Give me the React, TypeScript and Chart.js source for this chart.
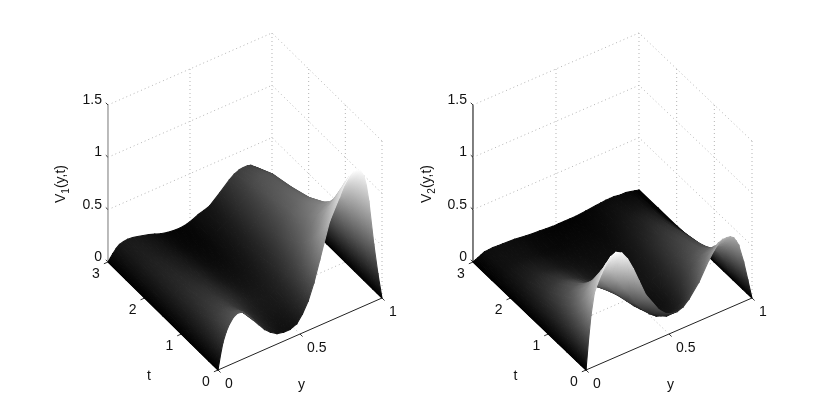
import React, { useEffect, useRef } from "react";
import { Chart, registerables } from "chart.js";

Chart.register(...registerables);

const W = 830;
const H = 417;

// Grid of the two surfaces
const yGrid = [0, 0.015, 0.03, 0.05, 0.07, 0.095, 0.12, 0.15, 0.18, 0.215, 0.25, 0.285, 0.32, 0.36, 0.4, 0.44, 0.48, 0.515, 0.55, 0.585, 0.62, 0.68, 0.74, 0.77, 0.8, 0.825, 0.85, 0.87, 0.89, 0.905, 0.92, 0.95, 0.975, 1];
const tGrid = [0, 0.125, 0.25, 0.5, 0.75, 1, 1.5, 2, 2.5, 3];

// V1(y,t), one row per value of tGrid
const v1Rows = [
  [0, 0.13, 0.24, 0.33, 0.39, 0.44, 0.46, 0.45, 0.40, 0.33, 0.26, 0.19, 0.14, 0.10, 0.085, 0.085, 0.11, 0.18, 0.28, 0.43, 0.62, 0.95, 1.14, 1.24, 1.30, 1.33, 1.33, 1.30, 1.24, 1.14, 0.98, 0.55, 0.25, 0],
  [0, 0.10, 0.21, 0.29, 0.36, 0.40, 0.425, 0.42, 0.385, 0.32, 0.26, 0.20, 0.15, 0.115, 0.09, 0.095, 0.115, 0.17, 0.26, 0.39, 0.56, 0.85, 1.04, 1.13, 1.19, 1.22, 1.22, 1.20, 1.14, 1.05, 0.91, 0.52, 0.245, 0],
  [0, 0.09, 0.18, 0.26, 0.33, 0.37, 0.39, 0.385, 0.36, 0.31, 0.26, 0.20, 0.16, 0.12, 0.10, 0.10, 0.12, 0.17, 0.24, 0.36, 0.50, 0.76, 0.94, 1.02, 1.08, 1.11, 1.12, 1.10, 1.04, 0.96, 0.84, 0.48, 0.24, 0],
  [0, 0.07, 0.14, 0.21, 0.27, 0.31, 0.33, 0.335, 0.32, 0.285, 0.25, 0.21, 0.17, 0.14, 0.12, 0.12, 0.13, 0.16, 0.21, 0.30, 0.40, 0.60, 0.76, 0.83, 0.87, 0.90, 0.90, 0.89, 0.85, 0.78, 0.70, 0.43, 0.22, 0],
  [0, 0.06, 0.12, 0.18, 0.23, 0.27, 0.29, 0.295, 0.29, 0.265, 0.24, 0.21, 0.18, 0.15, 0.13, 0.125, 0.13, 0.155, 0.19, 0.26, 0.33, 0.49, 0.62, 0.69, 0.73, 0.755, 0.76, 0.75, 0.72, 0.66, 0.60, 0.38, 0.20, 0],
  [0, 0.05, 0.10, 0.155, 0.20, 0.24, 0.26, 0.265, 0.26, 0.24, 0.22, 0.195, 0.17, 0.14, 0.12, 0.115, 0.12, 0.14, 0.17, 0.22, 0.28, 0.42, 0.54, 0.60, 0.64, 0.665, 0.67, 0.66, 0.63, 0.58, 0.53, 0.34, 0.18, 0],
  [0, 0.045, 0.09, 0.13, 0.17, 0.195, 0.21, 0.215, 0.21, 0.195, 0.18, 0.155, 0.13, 0.105, 0.09, 0.085, 0.09, 0.105, 0.13, 0.17, 0.21, 0.32, 0.43, 0.49, 0.52, 0.545, 0.55, 0.54, 0.52, 0.48, 0.44, 0.29, 0.15, 0],
  [0, 0.04, 0.08, 0.115, 0.15, 0.17, 0.18, 0.18, 0.17, 0.155, 0.14, 0.12, 0.10, 0.075, 0.06, 0.055, 0.06, 0.08, 0.10, 0.135, 0.17, 0.27, 0.37, 0.43, 0.46, 0.475, 0.48, 0.47, 0.45, 0.42, 0.38, 0.25, 0.13, 0],
  [0, 0.035, 0.07, 0.10, 0.13, 0.145, 0.155, 0.15, 0.14, 0.125, 0.11, 0.09, 0.07, 0.05, 0.04, 0.035, 0.04, 0.06, 0.08, 0.11, 0.14, 0.23, 0.32, 0.38, 0.41, 0.425, 0.43, 0.42, 0.40, 0.37, 0.33, 0.22, 0.11, 0],
  [0, 0.03, 0.06, 0.095, 0.12, 0.13, 0.135, 0.13, 0.12, 0.105, 0.09, 0.07, 0.05, 0.035, 0.025, 0.022, 0.03, 0.05, 0.075, 0.09, 0.11, 0.19, 0.275, 0.31, 0.33, 0.335, 0.335, 0.325, 0.30, 0.28, 0.25, 0.17, 0.09, 0],
];

// V2(y,t), one row per value of tGrid
const v2Rows = [
  [0, 0.27, 0.50, 0.70, 0.78, 0.86, 0.93, 0.98, 1.0, 0.97, 0.89, 0.77, 0.63, 0.47, 0.37, 0.27, 0.21, 0.185, 0.18, 0.20, 0.25, 0.37, 0.54, 0.61, 0.665, 0.68, 0.68, 0.675, 0.65, 0.61, 0.56, 0.38, 0.19, 0],
  [0, 0.21, 0.40, 0.58, 0.67, 0.75, 0.81, 0.86, 0.875, 0.84, 0.74, 0.63, 0.52, 0.38, 0.29, 0.20, 0.145, 0.12, 0.12, 0.135, 0.18, 0.30, 0.45, 0.52, 0.57, 0.59, 0.595, 0.59, 0.565, 0.53, 0.48, 0.33, 0.17, 0],
  [0, 0.17, 0.32, 0.47, 0.58, 0.66, 0.72, 0.76, 0.76, 0.70, 0.60, 0.50, 0.42, 0.30, 0.22, 0.15, 0.10, 0.085, 0.08, 0.095, 0.13, 0.25, 0.38, 0.44, 0.49, 0.51, 0.52, 0.51, 0.49, 0.46, 0.42, 0.29, 0.15, 0],
  [0, 0.11, 0.22, 0.33, 0.42, 0.49, 0.54, 0.575, 0.58, 0.54, 0.46, 0.39, 0.32, 0.24, 0.17, 0.11, 0.07, 0.06, 0.06, 0.07, 0.10, 0.18, 0.28, 0.33, 0.37, 0.39, 0.40, 0.39, 0.37, 0.34, 0.31, 0.22, 0.11, 0],
  [0, 0.08, 0.16, 0.24, 0.31, 0.37, 0.42, 0.445, 0.45, 0.42, 0.37, 0.32, 0.27, 0.21, 0.15, 0.10, 0.08, 0.07, 0.06, 0.07, 0.09, 0.15, 0.23, 0.27, 0.30, 0.32, 0.33, 0.32, 0.31, 0.285, 0.26, 0.18, 0.09, 0],
  [0, 0.06, 0.12, 0.18, 0.24, 0.29, 0.32, 0.345, 0.35, 0.33, 0.30, 0.26, 0.22, 0.17, 0.13, 0.10, 0.09, 0.08, 0.07, 0.08, 0.09, 0.13, 0.20, 0.235, 0.26, 0.28, 0.29, 0.28, 0.27, 0.245, 0.22, 0.16, 0.08, 0],
  [0, 0.04, 0.08, 0.115, 0.15, 0.18, 0.20, 0.215, 0.22, 0.21, 0.19, 0.165, 0.14, 0.11, 0.09, 0.08, 0.07, 0.065, 0.06, 0.065, 0.07, 0.10, 0.15, 0.175, 0.20, 0.215, 0.22, 0.215, 0.21, 0.19, 0.17, 0.12, 0.06, 0],
  [0, 0.025, 0.05, 0.07, 0.09, 0.11, 0.12, 0.13, 0.13, 0.12, 0.11, 0.095, 0.08, 0.07, 0.06, 0.055, 0.05, 0.05, 0.05, 0.05, 0.05, 0.07, 0.10, 0.115, 0.13, 0.145, 0.15, 0.145, 0.14, 0.13, 0.12, 0.08, 0.04, 0],
  [0, 0.015, 0.03, 0.045, 0.06, 0.065, 0.07, 0.07, 0.07, 0.065, 0.06, 0.05, 0.04, 0.035, 0.03, 0.03, 0.03, 0.03, 0.03, 0.03, 0.03, 0.04, 0.06, 0.07, 0.08, 0.08, 0.08, 0.08, 0.08, 0.075, 0.07, 0.05, 0.02, 0],
  [0, 0.01, 0.02, 0.035, 0.05, 0.052, 0.055, 0.052, 0.05, 0.048, 0.045, 0.038, 0.03, 0.025, 0.02, 0.015, 0.01, 0.01, 0.01, 0.01, 0.01, 0.02, 0.03, 0.035, 0.04, 0.04, 0.04, 0.035, 0.03, 0.03, 0.03, 0.02, 0.01, 0],
];

// Tick values and labels
const zTicks = [0, 0.5, 1, 1.5];
const zLabels = ["0", "0.5", "1", "1.5"];
const tTicks = [0, 1, 2, 3];
const tLabels = ["0", "1", "2", "3"];
const yTicks = [0, 0.5, 1];
const yLabels = ["0", "0.5", "1"];

type Panel = {
  ox: number; oy: number; yx: number; yy: number; tx: number; ty: number; zz: number;
  rows: number[][]; sub: string; labelX: number; zAxisColor: string;
};

const panels: Panel[] = [
  { ox: 218, oy: 370, yx: 164, yy: -72, tx: -36.67, ty: -36, zz: -104.7, rows: v1Rows, sub: "1", labelX: 61, zAxisColor: "#777777" },
  { ox: 586, oy: 370, yx: 166, yy: -72, tx: -37.67, ty: -36, zz: -104.7, rows: v2Rows, sub: "2", labelX: 427, zAxisColor: "#000000" },
];

const project = (p: Panel, y: number, t: number, v: number) => ({
  x: p.ox + p.yx * y + p.tx * t,
  y: p.oy + p.yy * y + p.ty * t + p.zz * v,
});

const level = (c: number) => `rgb(${c},${c},${c})`;

function facePaint(ctx: CanvasRenderingContext2D, pts: { x: number; y: number }[], vals: number[], vMax: number) {
  const n = pts.length;
  const cx = pts.reduce((s, q) => s + q.x, 0) / n;
  const cy = pts.reduce((s, q) => s + q.y, 0) / n;
  const vc = vals.reduce((s, q) => s + q, 0) / n;
  let sxx = 0, sxy = 0, syy = 0, sxv = 0, syv = 0;
  pts.forEach((q, i) => {
    const dx = q.x - cx, dy = q.y - cy, dv = vals[i] - vc;
    sxx += dx * dx; sxy += dx * dy; syy += dy * dy; sxv += dx * dv; syv += dy * dv;
  });
  const det = sxx * syy - sxy * sxy;
  const lo = Math.min(...vals), hi = Math.max(...vals);
  const flat = level(Math.round((vc / vMax) * 255));
  if (Math.abs(det) < 1e-3 || hi - lo < 1e-4) return flat;
  const gx = (syy * sxv - sxy * syv) / det;
  const gy = (sxx * syv - sxy * sxv) / det;
  const g2 = gx * gx + gy * gy;
  if (g2 < 1e-10) return flat;
  // the gradient runs between two whole grey levels, so neighbouring faces agree along their edge
  const c0 = Math.max(0, Math.floor((lo / vMax) * 255));
  const c1 = Math.min(255, Math.max(c0 + 1, Math.ceil((hi / vMax) * 255)));
  const v0 = (c0 / 255) * vMax, v1 = (c1 / 255) * vMax;
  const grad = ctx.createLinearGradient(
    cx + (gx * (v0 - vc)) / g2, cy + (gy * (v0 - vc)) / g2,
    cx + (gx * (v1 - vc)) / g2, cy + (gy * (v1 - vc)) / g2
  );
  grad.addColorStop(0, level(c0));
  grad.addColorStop(1, level(c1));
  return grad;
}

function line(points: { x: number; y: number }[], color: string, dash: number[] = [], width = 1) {
  return {
    data: points, showLine: true, fill: false, borderColor: color, borderWidth: width,
    borderDash: dash, pointRadius: 0, tension: 0,
  };
}

function panelBackground(p: Panel) {
  const out: any[] = [];
  const grid = "#b4b4b4";
  const dash = [1, 3];
  for (const v of zTicks.slice(1)) {
    out.push(line([project(p, 0, 3, v), project(p, 1, 3, v), project(p, 1, 0, v)], grid, dash));
  }
  out.push(line([project(p, 0.5, 3, 0), project(p, 0.5, 3, 1.5)], grid, dash));
  out.push(line([project(p, 1, 3, 0), project(p, 1, 3, 1.5)], grid, dash));
  for (const t of [2, 1, 0]) out.push(line([project(p, 1, t, 0), project(p, 1, t, 1.5)], grid, dash));
  out.push(line([project(p, 0.5, 0, 0), project(p, 0.5, 3, 0)], grid, dash));
  for (const t of [1, 2, 3]) out.push(line([project(p, 0, t, 0), project(p, 1, t, 0)], grid, dash));
  out.push(line([project(p, 1, 0, 0), project(p, 1, 3, 0)], grid, dash));

  out.push(line([project(p, 0, 3, 0), project(p, 0, 3, 1.5)], p.zAxisColor));
  out.push(line([project(p, 0, 0, 0), project(p, 0, 3, 0)], "#222222"));
  out.push(line([project(p, 0, 0, 0), project(p, 1, 0, 0)], "#222222"));
  for (const v of zTicks) out.push(line([project(p, 0, 3, v), project(p, 0, 3.06, v)], "#333333"));
  for (const t of tTicks) out.push(line([project(p, 0, t, 0), project(p, -0.025, t, 0)], "#333333"));
  for (const y of yTicks) out.push(line([project(p, y, 0, 0), project(p, y, -0.07, 0)], "#333333"));
  return out;
}

function panelSurface(p: Panel, ctx: CanvasRenderingContext2D) {
  const vMax = Math.max(...p.rows.flat());
  const out: any[] = [];
  const face = (idx: number[][]) => {
    const pts = idx.map(([a, b]) => project(p, yGrid[b], tGrid[a], p.rows[a][b]));
    const vals = idx.map(([a, b]) => p.rows[a][b]);
    const paint = facePaint(ctx, pts, vals, vMax);
    out.push({
      data: [...pts, pts[0]], showLine: true, fill: "shape", backgroundColor: paint,
      borderColor: paint, borderWidth: 1.1, borderJoinStyle: "round", borderCapStyle: "round",
      pointRadius: 0, tension: 0,
    });
  };
  // nearest face first: Chart.js paints the first dataset last
  for (let ti = 0; ti < tGrid.length - 1; ti++) {
    for (let yi = 0; yi < yGrid.length - 1; yi++) {
      face([[ti, yi], [ti, yi + 1], [ti + 1, yi + 1]]);
      face([[ti, yi], [ti + 1, yi + 1], [ti + 1, yi]]);
    }
  }
  return out;
}

const FONT = '"Liberation Sans", Arial, sans-serif';
const SIZE = 14;
const SUB = 10;

const textPlugin = {
  id: "axisText",
  afterDraw(chart: any) {
    const ctx: CanvasRenderingContext2D = chart.ctx;
    const sx = chart.scales.x, sy = chart.scales.y;
    const put = (s: string, x: number, y: number, align: CanvasTextAlign) => {
      ctx.textAlign = align;
      ctx.fillText(s, sx.getPixelForValue(x), sy.getPixelForValue(y));
    };
    ctx.save();
    ctx.fillStyle = "#111111";
    ctx.textBaseline = "middle";
    ctx.font = `${SIZE}px ${FONT}`;
    for (const p of panels) {
      zTicks.forEach((v, i) => {
        const q = project(p, 0, 3, v);
        put(zLabels[i], q.x - 6, q.y - 5, "right");
      });
      tTicks.forEach((t, i) => {
        const q = project(p, 0, t, 0);
        put(tLabels[i], q.x - 12, q.y + 12.5, "center");
      });
      yTicks.forEach((y, i) => {
        const q = project(p, y, 0, 0);
        put(yLabels[i], q.x + 7, q.y + 14.5, "left");
      });
      const tm = project(p, 0, 1.5, 0);
      put("t", tm.x - 14, tm.y + 60, "center");
      const ym = project(p, 0.5, 0, 0);
      put("y", ym.x + 1.5, ym.y + 51, "center");

      ctx.save();
      ctx.translate(sx.getPixelForValue(p.labelX), sy.getPixelForValue(184));
      ctx.rotate(-Math.PI / 2);
      ctx.textAlign = "left";
      ctx.font = `${SIZE}px ${FONT}`;
      const wv = ctx.measureText("V").width;
      const wr = ctx.measureText("(y,t)").width;
      ctx.font = `${SUB}px ${FONT}`;
      const ws = ctx.measureText(p.sub).width;
      const x0 = -(wv + ws + wr) / 2;
      ctx.font = `${SIZE}px ${FONT}`;
      ctx.fillText("V", x0, 0);
      ctx.fillText("(y,t)", x0 + wv + ws, 0);
      ctx.font = `${SUB}px ${FONT}`;
      ctx.fillText(p.sub, x0 + wv, 5);
      ctx.restore();
      ctx.font = `${SIZE}px ${FONT}`;
    }
    ctx.restore();
  },
};

export default function App() {
  const ref = useRef<HTMLCanvasElement>(null);
  useEffect(() => {
    document.body.style.margin = "0";
    document.body.style.background = "#ffffff";
    const canvas = ref.current!;
    const ctx = canvas.getContext("2d")!;
    const surfaces = panels.flatMap((p) => panelSurface(p, ctx));
    const backgrounds = panels.flatMap((p) => panelBackground(p));
    const chart = new Chart(canvas, {
      type: "scatter",
      data: { datasets: [...surfaces, ...backgrounds] },
      options: {
        responsive: false,
        animation: false,
        layout: { padding: 0 },
        scales: {
          x: { type: "linear", min: 0, max: W, display: false },
          y: { type: "linear", min: 0, max: H, reverse: true, display: false },
        },
        plugins: {
          legend: { display: false },
          tooltip: { enabled: false },
          title: { display: false },
          filler: { drawTime: "beforeDatasetDraw" },
        },
        events: [],
      } as any,
      plugins: [textPlugin],
    } as any);
    return () => chart.destroy();
  }, []);
  return <canvas ref={ref} width={W} height={H} style={{ display: "block", width: W, height: H }} />;
}
